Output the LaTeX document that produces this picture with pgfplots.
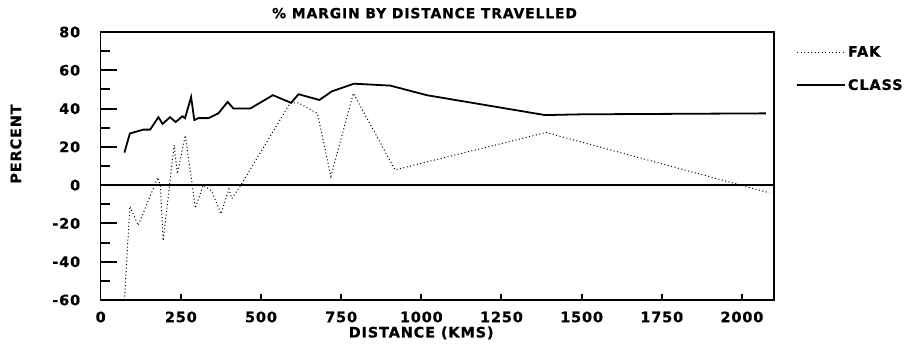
\documentclass[border=0pt]{standalone}
\usepackage{fontspec}
\setmainfont{DejaVu Sans}
\newfontfamily\heavy{DejaVu Sans Bold}[FakeBold=0.6, LetterSpace=6]
\usepackage{pgfplots}
\pgfplotsset{compat=1.18}
\begin{document}
\begin{tikzpicture}
\begin{axis}[
  scale only axis,
  width=673.3bp, height=268bp,
  xmin=0, xmax=2100, ymin=-60, ymax=80,
  clip=false,
  xtick={0,250,...,2000},
  ytick={-60,-40,...,80},
  axis line style={line width=1.3bp},
  xtick pos=bottom, ytick pos=left,
  tick align=inside,
  major tick length=0pt,
  /pgf/number format/assume math mode=true,
  /pgf/number format/1000 sep={},
  tick label style={font=\heavy\fontsize{14.5}{16}\selectfont},
  xticklabel style={yshift=-8bp},
  yticklabel style={xshift=-17bp},
  title={\% MARGIN BY DISTANCE TRAVELLED},
  title style={font=\heavy\fontsize{14}{16}\selectfont, at={(axis description cs:0.481,1.048)}, anchor=center},
  xlabel={DISTANCE (KMS)},
  ylabel={PERCENT},
  label style={font=\heavy\fontsize{14.5}{16}\selectfont},
  xlabel style={at={(axis description cs:0.476,-0.123)}, anchor=center},
  ylabel style={at={(axis description cs:-0.126,0.582)}, anchor=center},
  extra y ticks={0},
  extra y tick labels={},
  extra y tick style={grid=major, major grid style={black, line width=1.3bp}},
  legend style={at={(1,1)}, anchor=north west, xshift=19bp, yshift=-10bp, draw=none, fill=none,
    font=\heavy\fontsize{14.5}{16}\selectfont, row sep=17bp, cells={anchor=west}},
  legend image code/.code={\draw[#1] (0bp,0bp) -- (35bp,0bp); \path (0bp,0bp) -- (48bp,0bp);},
]
\addplot[black, line width=1bp, dash pattern=on 1bp off 2.5bp] coordinates {
(74,-60) (91,-11) (117,-21) (178,4) (186,0) (195,-29) (229,21) (239,6) (264,26)
(284,2) (295,-12) (320,0) (346,-3) (375,-15) (400,-2) (409,-7) (437,0)
(591,43) (617,43) (648,40) (676,37.5) (718,4.5) (788,48) (918,8) (1389,27.5) (2085,-4)
};
\addlegendentry{FAK}
\addplot[black, line width=1.8bp] coordinates {
(74,17) (91,27) (133,29) (154,29) (180,35.5) (193,32) (216,35.5) (234,33) (255,36)
(263,35) (282,46) (292,34) (305,35) (336,35) (367,37.5) (396,43.5) (414,40) (466,40)
(537,47) (594,43) (617,47.5) (682,44.5) (721,49) (790,53) (903,52) (1017,47)
(1386,36.6) (1500,37) (2075,37.5)
};
\addlegendentry{CLASS}
\pgfplotsinvokeforeach{-40,-20,20,40,60}{\draw[black, line width=2bp] (axis cs:0,#1) -- ++(16bp,0bp);}
\pgfplotsinvokeforeach{-50,-30,-10,10,30,50,70}{\draw[black, line width=2bp] (axis cs:0,#1) -- ++(9bp,0bp);}
\pgfplotsinvokeforeach{250,500,750,1000,1250,1500,1750,2000}{\draw[black, line width=2bp] (axis cs:#1,-60) -- ++(0bp,6bp);}
\end{axis}
\pgfresetboundingbox
\path (-100.7bp,-46bp) rectangle (809.3bp,300bp);
\end{tikzpicture}
\end{document}
